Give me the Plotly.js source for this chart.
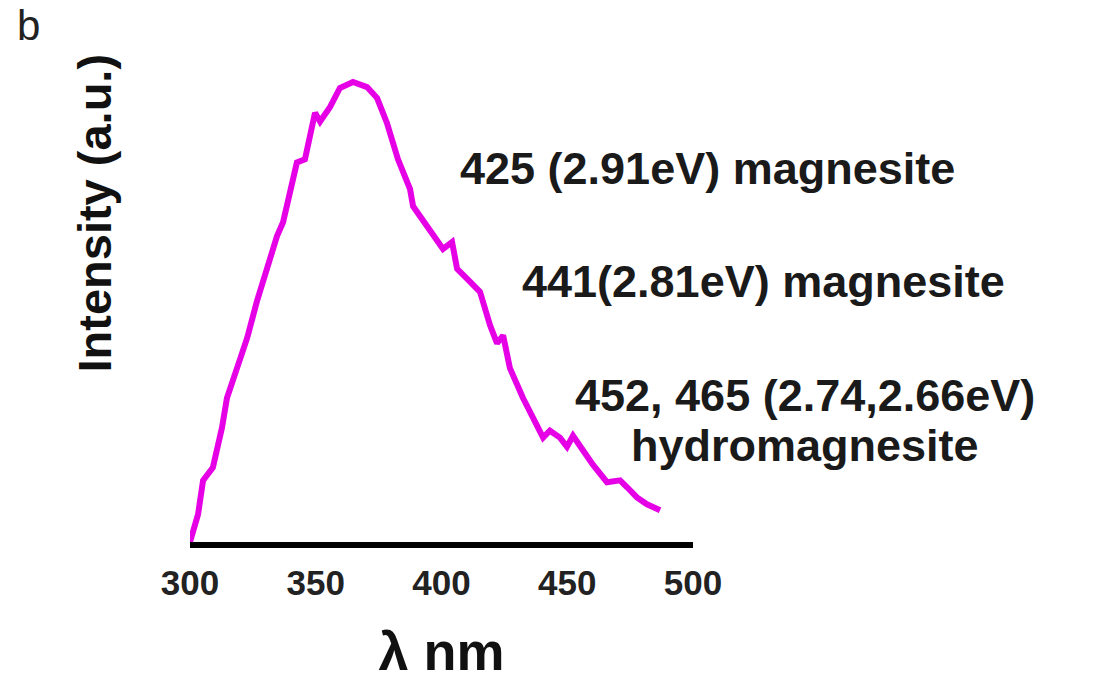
<!DOCTYPE html>
<html>
<head>
<meta charset="utf-8">
<script src="https://cdn.plot.ly/plotly-3.0.1.min.js"></script>
<style>
  html, body { margin: 0; padding: 0; background: #ffffff; }
  #chart { width: 1095px; height: 695px; }
</style>
</head>
<body>
<div id="chart"></div>
<script>
// Wavelength (nm) and PL intensity (a.u.)
const wavelength = [300, 303.2, 305.2, 309.1, 312.7, 314.7, 318.7, 322.7, 326.6, 330.6,
  334.6, 337.0, 339.8, 342.5, 345.7, 348.5, 349.7, 351.7, 355.7, 359.6,
  364.8, 370.4, 374.4, 378.3, 382.7, 387.5, 388.7, 394.2, 400.6, 404.2,
  406.2, 411.3, 415.3, 419.3, 422.1, 424.5, 427.2, 432.4, 438.0, 440.4,
  443.1, 447.1, 449.9, 452.3, 456.3, 460.2, 465.8, 471.0, 473.8, 477.7,
  481.7, 486.9];
const intensity = [0, 6.0, 13.4, 16.2, 24.8, 31.3, 37.8, 44.3, 52.3, 59.4,
  66.5, 69.5, 76.7, 82.5, 83.2, 89.6, 93.3, 91.4, 94.6, 98.7,
  100, 98.9, 96.5, 91.1, 83.2, 76.7, 73.0, 68.7, 63.7, 65.2,
  59.4, 56.6, 54.4, 47.1, 43.2, 44.9, 37.8, 31.3, 25.5, 22.7,
  24.2, 22.7, 20.7, 23.1, 19.9, 16.8, 13.0, 13.4, 11.9, 9.7,
  8.2, 6.9];

const xTickVals = [300, 350, 400, 450, 500];
const xTickText = ["300", "350", "400", "450", "500"];

const panelLabel = "b";
const xTitle = "λ nm";
const yTitle = "Intensity (a.u.)";
const peakLabels = [
  "425 (2.91eV) magnesite",
  "441(2.81eV) magnesite",
  "452, 465 (2.74,2.66eV)",
  "hydromagnesite"
];

const FONT = "'Liberation Sans', Arial, sans-serif";

const trace = {
  x: wavelength,
  y: intensity,
  type: "scatter",
  mode: "lines",
  line: { color: "#e600e6", width: 6, shape: "linear" },
  hoverinfo: "x+y",
  showlegend: false
};

const annFont = { family: FONT, size: 45, color: "#1a1a1a", weight: 700 };

const layout = {
  width: 1095,
  height: 695,
  margin: { l: 190, r: 402, t: 36, b: 153 },
  paper_bgcolor: "#ffffff",
  plot_bgcolor: "#ffffff",
  showlegend: false,
  xaxis: {
    range: [300, 500],
    tickmode: "array",
    tickvals: xTickVals,
    ticktext: xTickText,
    showline: true,
    linecolor: "#000000",
    linewidth: 6,
    ticks: "",
    showgrid: false,
    zeroline: false,
    ticklabelstandoff: 5,
    tickfont: { family: FONT, size: 35, color: "#222222", weight: 700 },
    title: { text: xTitle, font: { family: FONT, size: 54, color: "#111111", weight: 700 }, standoff: 33 },
    automargin: false
  },
  yaxis: {
    range: [0, 110],
    showline: false,
    showticklabels: false,
    ticks: "",
    showgrid: false,
    zeroline: false,
    automargin: false
  },
  annotations: [
    { text: panelLabel, xref: "paper", yref: "paper", x: -0.322, y: 1.02,
      xanchor: "center", yanchor: "middle", showarrow: false,
      font: { family: FONT, size: 42, color: "#222222" } },
    { text: yTitle, xref: "paper", yref: "paper", x: -0.19, y: 0.65,
      xanchor: "center", yanchor: "middle", textangle: -90, showarrow: false,
      font: { family: FONT, size: 47, color: "#111111", weight: 700 } },
    { text: peakLabels[0], xref: "paper", yref: "paper", x: 0.533, y: 0.739,
      xanchor: "left", yanchor: "middle", showarrow: false, font: annFont },
    { text: peakLabels[1], xref: "paper", yref: "paper", x: 0.656, y: 0.514,
      xanchor: "left", yanchor: "middle", showarrow: false, font: annFont },
    { text: peakLabels[2], xref: "paper", yref: "paper", x: 1.223, y: 0.29,
      xanchor: "center", yanchor: "middle", showarrow: false, font: annFont },
    { text: peakLabels[3], xref: "paper", yref: "paper", x: 1.223, y: 0.19,
      xanchor: "center", yanchor: "middle", showarrow: false, font: annFont }
  ]
};

Plotly.newPlot("chart", [trace], layout, { displayModeBar: false, staticPlot: true });
</script>
</body>
</html>
